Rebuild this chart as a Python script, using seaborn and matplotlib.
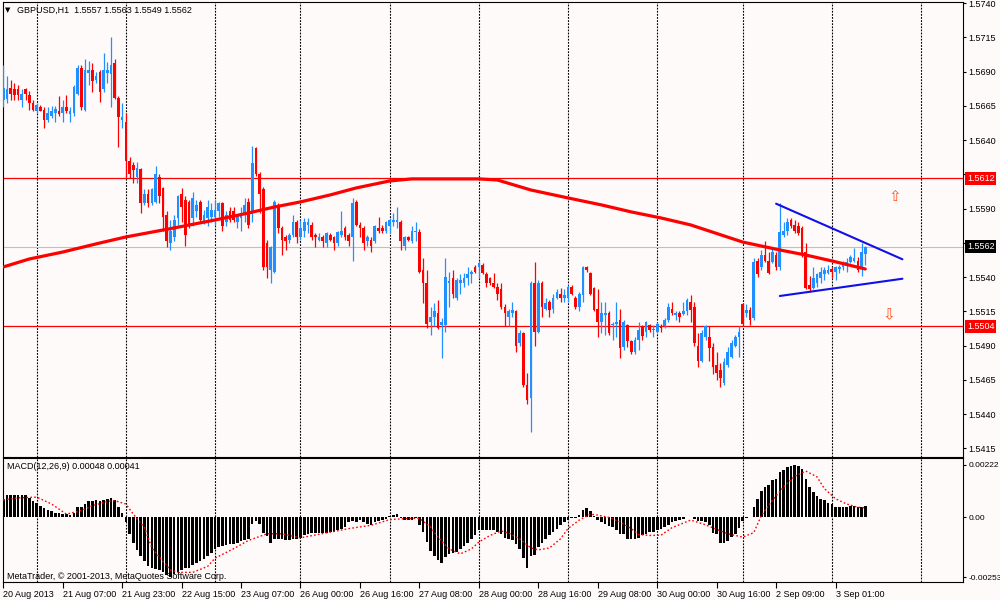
import numpy as np
import pandas as pd
import matplotlib
matplotlib.use("Agg")
import matplotlib.pyplot as plt
import matplotlib.transforms as mtransforms
import seaborn as sns

# ---------------- data ----------------
date_labels = ["20 Aug 2013", "21 Aug 07:00", "21 Aug 23:00", "22 Aug 15:00", "23 Aug 07:00",
               "26 Aug 00:00", "26 Aug 16:00", "27 Aug 08:00", "28 Aug 00:00", "28 Aug 16:00",
               "29 Aug 08:00", "30 Aug 00:00", "30 Aug 16:00", "2 Sep 09:00", "3 Sep 01:00"]
date_label_bars = [0, 16, 32, 48, 64, 80, 96, 112, 128, 144, 160, 176, 192, 208, 224]
day_start_bars = [9, 33, 57, 80, 104, 128, 152, 176, 199, 223, 247]

open_ = [
1.5669,1.5670,1.5678,1.5677,1.5677,1.5669,1.5677,1.5673,1.5667,1.5661,
1.5664,1.5662,1.5655,1.5658,1.5660,1.5661,1.5660,1.5664,1.5659,1.5660,
1.5674,1.5693,1.5662,1.5689,1.5691,1.5684,1.5690,1.5677,1.5689,1.5688,
1.5696,1.5671,1.5655,1.5653,1.5625,1.5622,1.5613,1.5619,1.5594,1.5601,
1.5594,1.5595,1.5613,1.5605,1.5585,1.5565,1.5569,1.5583,1.5601,1.5596,
1.5595,1.5583,1.5588,1.5595,1.5580,1.5583,1.5584,1.5584,1.5588,1.5594,
1.5580,1.5588,1.5588,1.5580,1.5583,1.5585,1.5595,1.5587,1.5634,1.5615,
1.5604,1.5565,1.5545,1.5544,1.5593,1.5576,1.5569,1.5567,1.5571,1.5580,
1.5569,1.5574,1.5578,1.5578,1.5571,1.5567,1.5569,1.5565,1.5571,1.5569,
1.5565,1.5571,1.5576,1.5571,1.5569,1.5595,1.5578,1.5576,1.5566,1.5567,
1.5566,1.5576,1.5576,1.5574,1.5577,1.5580,1.5580,1.5580,1.5563,1.5569,
1.5566,1.5573,1.5573,1.5545,1.5536,1.5507,1.5511,1.5514,1.5505,1.5505,
1.5536,1.5539,1.5525,1.5536,1.5536,1.5539,1.5542,1.5547,1.5547,1.5549,
1.5542,1.5539,1.5536,1.5533,1.5531,1.5518,1.5511,1.5514,1.5515,1.5492,
1.5499,1.5461,1.5452,1.5536,1.5500,1.5536,1.5517,1.5522,1.5517,1.5525,
1.5528,1.5525,1.5525,1.5533,1.5525,1.5518,1.5527,1.5547,1.5543,1.5532,
1.5517,1.5507,1.5512,1.5514,1.5505,1.5506,1.5509,1.5489,1.5505,1.5493,
1.5485,1.5494,1.5504,1.5500,1.5505,1.5501,1.5500,1.5504,1.5504,1.5509,
1.5517,1.5512,1.5514,1.5513,1.5515,1.5522,1.5518,1.5490,1.5479,1.5496,
1.5496,1.5489,1.5476,1.5472,1.5463,1.5476,1.5482,1.5490,1.5496,1.5520,
1.5514,1.5516,1.5510,1.5552,1.5547,1.5556,1.5552,1.5551,1.5556,1.5547,
1.5571,1.5574,1.5582,1.5578,1.5577,1.5576,1.5558,1.5534,1.5532,1.5536,
1.5539,1.5542,1.5543,1.5546,1.5544,1.5546,1.5547,1.5549,1.5551,1.5552,
1.5552,1.5547,1.5557]

high = [
1.5695,1.5687,1.5684,1.5682,1.5680,1.5677,1.5678,1.5676,1.5669,1.5667,
1.5666,1.5664,1.5664,1.5665,1.5665,1.5672,1.5669,1.5673,1.5664,1.5680,
1.5695,1.5695,1.5699,1.5698,1.5696,1.5690,1.5691,1.5704,1.5697,1.5715,
1.5699,1.5672,1.5667,1.5660,1.5628,1.5624,1.5624,1.5620,1.5604,1.5604,
1.5605,1.5621,1.5615,1.5606,1.5588,1.5582,1.5585,1.5600,1.5605,1.5599,
1.5596,1.5602,1.5596,1.5596,1.5589,1.5596,1.5594,1.5596,1.5595,1.5595,
1.5588,1.5591,1.5591,1.5586,1.5591,1.5598,1.5598,1.5636,1.5635,1.5617,
1.5606,1.5567,1.5563,1.5596,1.5594,1.5577,1.5571,1.5572,1.5585,1.5582,
1.5582,1.5583,1.5583,1.5580,1.5572,1.5572,1.5571,1.5573,1.5572,1.5570,
1.5574,1.5588,1.5577,1.5572,1.5598,1.5596,1.5580,1.5577,1.5571,1.5569,
1.5578,1.5584,1.5578,1.5581,1.5583,1.5587,1.5591,1.5582,1.5570,1.5570,
1.5577,1.5580,1.5575,1.5554,1.5545,1.5518,1.5521,1.5523,1.5510,1.5554,
1.5544,1.5545,1.5539,1.5542,1.5543,1.5547,1.5545,1.5549,1.5552,1.5550,
1.5544,1.5540,1.5543,1.5536,1.5536,1.5520,1.5517,1.5522,1.5516,1.5501,
1.5500,1.5470,1.5537,1.5551,1.5538,1.5537,1.5525,1.5523,1.5528,1.5531,
1.5532,1.5531,1.5534,1.5534,1.5526,1.5529,1.5548,1.5548,1.5544,1.5533,
1.5531,1.5522,1.5522,1.5515,1.5507,1.5522,1.5517,1.5509,1.5506,1.5494,
1.5496,1.5507,1.5505,1.5508,1.5506,1.5505,1.5507,1.5506,1.5510,1.5521,
1.5522,1.5515,1.5515,1.5522,1.5525,1.5527,1.5522,1.5499,1.5501,1.5505,
1.5504,1.5492,1.5485,1.5477,1.5481,1.5489,1.5494,1.5498,1.5504,1.5521,
1.5520,1.5518,1.5554,1.5554,1.5560,1.5566,1.5558,1.5562,1.5558,1.5594,
1.5580,1.5583,1.5583,1.5582,1.5580,1.5577,1.5565,1.5541,1.5547,1.5543,
1.5547,1.5547,1.5549,1.5547,1.5548,1.5549,1.5552,1.5554,1.5556,1.5561,
1.5555,1.5565,1.5563]

low = [
1.5664,1.5667,1.5669,1.5669,1.5669,1.5664,1.5669,1.5662,1.5661,1.5660,
1.5661,1.5649,1.5653,1.5656,1.5653,1.5658,1.5653,1.5660,1.5653,1.5658,
1.5673,1.5662,1.5661,1.5680,1.5675,1.5682,1.5668,1.5675,1.5682,1.5664,
1.5670,1.5635,1.5649,1.5613,1.5612,1.5609,1.5609,1.5587,1.5593,1.5591,
1.5593,1.5594,1.5594,1.5574,1.5562,1.5560,1.5566,1.5578,1.5580,1.5563,
1.5576,1.5577,1.5584,1.5580,1.5579,1.5577,1.5580,1.5578,1.5584,1.5574,
1.5577,1.5580,1.5580,1.5576,1.5574,1.5580,1.5576,1.5580,1.5614,1.5587,
1.5545,1.5539,1.5536,1.5543,1.5572,1.5556,1.5560,1.5565,1.5569,1.5565,
1.5567,1.5569,1.5572,1.5567,1.5562,1.5566,1.5562,1.5562,1.5566,1.5560,
1.5563,1.5569,1.5567,1.5563,1.5552,1.5577,1.5569,1.5560,1.5563,1.5558,
1.5565,1.5572,1.5572,1.5572,1.5572,1.5577,1.5576,1.5560,1.5560,1.5566,
1.5565,1.5566,1.5543,1.5521,1.5503,1.5498,1.5504,1.5502,1.5481,1.5500,
1.5518,1.5525,1.5523,1.5528,1.5533,1.5534,1.5536,1.5543,1.5539,1.5542,
1.5533,1.5534,1.5532,1.5523,1.5517,1.5504,1.5504,1.5511,1.5485,1.5490,
1.5460,1.5447,1.5427,1.5490,1.5499,1.5511,1.5516,1.5511,1.5514,1.5524,
1.5522,1.5522,1.5522,1.5527,1.5517,1.5515,1.5522,1.5544,1.5527,1.5515,
1.5496,1.5499,1.5498,1.5498,1.5494,1.5496,1.5481,1.5487,1.5489,1.5484,
1.5484,1.5487,1.5494,1.5496,1.5500,1.5496,1.5499,1.5500,1.5503,1.5507,
1.5512,1.5509,1.5507,1.5512,1.5512,1.5507,1.5490,1.5474,1.5478,1.5494,
1.5479,1.5469,1.5465,1.5460,1.5461,1.5474,1.5481,1.5489,1.5482,1.5504,
1.5511,1.5505,1.5509,1.5540,1.5545,1.5551,1.5542,1.5550,1.5545,1.5545,
1.5569,1.5571,1.5576,1.5572,1.5571,1.5555,1.5531,1.5529,1.5531,1.5533,
1.5536,1.5538,1.5542,1.5539,1.5538,1.5543,1.5545,1.5544,1.5550,1.5551,
1.5544,1.5541,1.5549]

close = [
1.5678,1.5677,1.5674,1.5673,1.5673,1.5674,1.5674,1.5667,1.5662,1.5666,
1.5661,1.5655,1.5660,1.5661,1.5663,1.5659,1.5664,1.5661,1.5661,1.5679,
1.5693,1.5664,1.5691,1.5691,1.5683,1.5687,1.5675,1.5691,1.5691,1.5695,
1.5671,1.5657,1.5657,1.5625,1.5615,1.5618,1.5620,1.5594,1.5601,1.5594,
1.5604,1.5615,1.5599,1.5584,1.5566,1.5574,1.5582,1.5599,1.5591,1.5571,
1.5578,1.5598,1.5593,1.5582,1.5585,1.5591,1.5589,1.5589,1.5594,1.5577,
1.5585,1.5582,1.5582,1.5585,1.5587,1.5593,1.5578,1.5623,1.5615,1.5601,
1.5547,1.5547,1.5562,1.5595,1.5576,1.5567,1.5566,1.5571,1.5580,1.5569,
1.5576,1.5580,1.5580,1.5569,1.5569,1.5569,1.5566,1.5572,1.5567,1.5565,
1.5573,1.5574,1.5569,1.5566,1.5594,1.5578,1.5576,1.5565,1.5569,1.5563,
1.5577,1.5574,1.5574,1.5580,1.5582,1.5582,1.5582,1.5566,1.5569,1.5567,
1.5574,1.5574,1.5544,1.5536,1.5506,1.5511,1.5515,1.5503,1.5507,1.5540,
1.5537,1.5528,1.5538,1.5538,1.5539,1.5542,1.5544,1.5544,1.5550,1.5543,
1.5536,1.5536,1.5533,1.5528,1.5518,1.5514,1.5515,1.5516,1.5490,1.5499,
1.5461,1.5450,1.5536,1.5500,1.5536,1.5518,1.5521,1.5516,1.5525,1.5529,
1.5525,1.5527,1.5533,1.5528,1.5518,1.5528,1.5547,1.5545,1.5528,1.5516,
1.5507,1.5514,1.5514,1.5499,1.5506,1.5507,1.5488,1.5507,1.5493,1.5485,
1.5494,1.5501,1.5497,1.5507,1.5501,1.5502,1.5506,1.5503,1.5509,1.5518,
1.5514,1.5514,1.5511,1.5515,1.5523,1.5516,1.5492,1.5479,1.5499,1.5504,
1.5488,1.5474,1.5470,1.5466,1.5478,1.5485,1.5492,1.5496,1.5500,1.5506,
1.5516,1.5509,1.5551,1.5542,1.5556,1.5552,1.5543,1.5558,1.5547,1.5573,
1.5574,1.5580,1.5577,1.5574,1.5572,1.5556,1.5532,1.5531,1.5539,1.5542,
1.5544,1.5545,1.5545,1.5544,1.5547,1.5547,1.5550,1.5551,1.5555,1.5554,
1.5545,1.5558,1.5562]

# long moving average (read at sample bars)
ma_bar = [0, 7, 16, 26, 33, 46, 57, 66, 73, 80, 88, 95, 104, 110, 128, 133, 142, 152,
          161, 169, 177, 185, 199, 209, 216, 223, 232]
ma_price = [1.55474, 1.55532, 1.55583, 1.55649, 1.55693, 1.55759, 1.55817, 1.55868, 1.55912,
            1.55949, 1.56000, 1.56051, 1.56102, 1.56117, 1.56117, 1.56109, 1.56036, 1.55978,
            1.55927, 1.55876, 1.55832, 1.55781, 1.55656, 1.55598, 1.55561, 1.55518, 1.55459]

macd_hist = [
0.00079,0.00093,0.00096,0.00096,0.00096,0.00093,0.00093,0.00083,0.00071,0.00060,
0.00050,0.00039,0.00031,0.00026,0.00021,0.00017,0.00014,0.00014,0.00011,0.00021,
0.00046,0.00043,0.00057,0.00069,0.00071,0.00074,0.00069,0.00074,0.00079,0.00083,
0.00074,0.00043,0.00021,-0.00021,-0.00069,-0.00107,-0.00136,-0.00164,-0.00186,-0.00207,
-0.00215,-0.00217,-0.00222,-0.00229,-0.00243,-0.00253,-0.00240,-0.00229,-0.00222,-0.00215,
-0.00212,-0.00200,-0.00193,-0.00186,-0.00174,-0.00164,-0.00150,-0.00132,-0.00126,-0.00122,
-0.00117,-0.00114,-0.00112,-0.00107,-0.00100,-0.00097,-0.00089,-0.00029,-0.00014,-0.00029,
-0.00064,-0.00079,-0.00107,-0.00089,-0.00089,-0.00093,-0.00096,-0.00096,-0.00093,-0.00089,
-0.00086,-0.00074,-0.00069,-0.00064,-0.00064,-0.00064,-0.00064,-0.00064,-0.00061,-0.00060,
-0.00054,-0.00047,-0.00040,-0.00019,-0.00014,-0.00019,-0.00011,-0.00019,-0.00026,-0.00030,
-0.00019,-0.00016,-0.00011,-0.00007,0.00006,0.00010,0.00013,-0.00004,-0.00009,-0.00009,
-0.00009,-0.00004,-0.00033,-0.00061,-0.00104,-0.00140,-0.00162,-0.00180,-0.00194,-0.00169,
-0.00154,-0.00152,-0.00147,-0.00133,-0.00119,-0.00109,-0.00090,-0.00072,-0.00054,-0.00051,
-0.00051,-0.00051,-0.00054,-0.00061,-0.00069,-0.00086,-0.00090,-0.00097,-0.00112,-0.00133,
-0.00172,-0.00212,-0.00162,-0.00157,-0.00126,-0.00109,-0.00090,-0.00076,-0.00061,-0.00047,
-0.00033,-0.00019,-0.00009,-0.00004,-0.00001,0.00010,0.00031,0.00041,0.00026,0.00006,
-0.00011,-0.00019,-0.00026,-0.00036,-0.00040,-0.00054,-0.00069,-0.00069,-0.00090,-0.00093,
-0.00090,-0.00086,-0.00076,-0.00069,-0.00061,-0.00061,-0.00054,-0.00050,-0.00042,-0.00031,
-0.00021,-0.00017,-0.00011,-0.00007,0.00001,0.00003,-0.00007,-0.00014,-0.00017,-0.00021,
-0.00031,-0.00064,-0.00071,-0.00107,-0.00107,-0.00100,-0.00083,-0.00069,-0.00043,-0.00014,
-0.00003,0.00003,0.00046,0.00079,0.00112,0.00129,0.00136,0.00157,0.00164,0.00193,
0.00200,0.00215,0.00217,0.00222,0.00217,0.00203,0.00164,0.00129,0.00107,0.00089,
0.00079,0.00072,0.00060,0.00057,0.00046,0.00043,0.00043,0.00046,0.00050,0.00050,
0.00046,0.00046,0.00048]

signal_bar = [0, 4, 9, 13, 17, 21, 24, 28, 30, 33, 35, 38, 40, 43, 45, 47, 51, 55, 57, 62,
              66, 71, 75, 80, 84, 89, 93, 99, 104, 109, 112, 115, 117, 120, 123, 126, 128, 131,
              134, 136, 139, 142, 144, 147, 150, 152, 155, 158, 160, 163, 166, 169, 171, 174,
              177, 180, 185, 189, 195, 199, 202, 204, 207, 210, 213, 216, 219, 221, 224, 227,
              230, 232]
signal_val = [0.00074, 0.00083, 0.00086, 0.00057, 0.00014, 0.00029, 0.00050, 0.00067, 0.00071,
              0.00057, 0.00014, -0.00043, -0.00129, -0.00186, -0.00222, -0.00232, -0.00232,
              -0.00207, -0.00172, -0.00132, -0.00097, -0.00069, -0.00069, -0.00086, -0.00074,
              -0.00059, -0.00047, -0.00033, -0.00009, -0.00004, -0.00004, -0.00040, -0.00083,
              -0.00133, -0.00154, -0.00133, -0.00104, -0.00076, -0.00057, -0.00066, -0.00090,
              -0.00129, -0.00137, -0.00129, -0.00090, -0.00047, -0.00011, 0.00014, 0.00010,
              0.00000, -0.00019, -0.00047, -0.00072, -0.00076, -0.00075, -0.00043, -0.00011,
              -0.00031, -0.00069, -0.00083, -0.00064, 0.00007, 0.00072, 0.00129, 0.00174,
              0.00196, 0.00172, 0.00122, 0.00079, 0.00057, 0.00043, 0.00041]

resistance = 1.5612
support = 1.5504
upper_trend_bar = [208, 242]
upper_trend_price = [1.55936, 1.55530]
lower_trend_bar = [209, 242]
lower_trend_price = [1.55262, 1.55388]
arrow_up = (240, 1.55987)
arrow_down = (238.4, 1.55123)

price_ticks = [1.5415, 1.5440, 1.5465, 1.5490, 1.5515, 1.5540, 1.5565, 1.5590,
               1.5615, 1.5640, 1.5665, 1.5690, 1.5715, 1.5740]
hidden_price_ticks = [1.5565, 1.5615]   # covered by the value boxes in the reference
macd_ticks = [-0.00253, 0.0, 0.00222]
macd_tick_labels = ["-0.00253", "0.00", "0.00222"]

# ---------------- style ----------------
sns.set_theme(style="white")
plt.rcParams["font.family"] = ["Liberation Sans", "DejaVu Sans"]
BG = "#fffafa"
BULL = "#1e90ff"
BEAR = "#ff0000"
FS = 6.5

fig = plt.figure(figsize=(10, 6), dpi=100, facecolor=BG)
ax = fig.add_axes([0.0025, 0.2383, 0.9605, 0.7584], facecolor=BG)
axm = fig.add_axes([0.0025, 0.0295, 0.9605, 0.2067], facecolor=BG)

df = pd.DataFrame({"o": open_, "h": high, "l": low, "c": close})
df["bar"] = np.arange(len(df))
up = df["c"] >= df["o"]
colors = np.where(up, BULL, BEAR)

# day separators
for a in (ax, axm):
    for b in day_start_bars:
        a.axvline(b, color="black", lw=0.8, ls=(0, (1.6, 1.2)), zorder=1)

# levels
ax.axhline(close[-1], color="#c0c0c0", lw=0.8, zorder=1.2)
ax.axhline(resistance, color="red", lw=0.9, zorder=1.3)
ax.axhline(support, color="red", lw=0.9, zorder=1.3)

# candles
ax.vlines(df["bar"], df["l"], df["h"], colors=colors, lw=0.9, zorder=3)
body = (df["c"] - df["o"]).abs().clip(lower=0.00002)
ax.bar(df["bar"], body, bottom=df[["o", "c"]].min(axis=1), width=0.72,
       color=colors, linewidth=0, zorder=4)

# moving average
sns.lineplot(x=ma_bar, y=ma_price, ax=ax, color="red", linewidth=2.3, zorder=5, sort=False)

# triangle trend lines
ax.plot(upper_trend_bar, upper_trend_price, color="#1010e8", lw=1.5, zorder=6)
ax.plot(lower_trend_bar, lower_trend_price, color="#1010e8", lw=1.5, zorder=6)

ax.text(arrow_up[0], arrow_up[1], "\u21e7", family="DejaVu Sans", fontsize=11,
        color="#ff5020", ha="center", va="center", zorder=7)
ax.text(arrow_down[0], arrow_down[1], "\u21e9", family="DejaVu Sans", fontsize=11,
        color="#ff5020", ha="center", va="center", zorder=7)

ax.set_xlim(-0.2, 258.3)
ax.set_ylim(1.54086, 1.57409)
ax.set_xticks([])
ax.set_xlabel("")
ax.set_ylabel("")
ax.yaxis.tick_right()
ax.set_yticks(price_ticks)
ax.set_yticklabels(["" if v in hidden_price_ticks else f"{v:.4f}" for v in price_ticks])
ax.tick_params(axis="y", which="major", right=True, left=False, direction="out",
               length=2.5, width=0.8, pad=1.5, labelsize=FS, colors="black")

# value boxes on the price scale
trans = mtransforms.blended_transform_factory(ax.transAxes, ax.transData)
for val, fc in [(resistance, "red"), (support, "red"), (close[-1], "black")]:
    ax.text(1.004, val, f"{val:.4f}", transform=trans, ha="left", va="center",
            fontsize=FS, color="white", clip_on=False, zorder=20,
            bbox=dict(boxstyle="square,pad=0.22", fc=fc, ec="none"))

# MACD panel
axm.bar(np.arange(len(macd_hist)), macd_hist, width=0.7, color="black", linewidth=0, zorder=3)
axm.plot(signal_bar, signal_val, color="red", lw=1.0, ls=(0, (1.2, 1.6)), zorder=4)
axm.set_xlim(-0.2, 258.3)
axm.set_ylim(-0.002741, 0.002503)
axm.yaxis.tick_right()
axm.set_yticks(macd_ticks)
axm.set_yticklabels(macd_tick_labels)
axm.tick_params(axis="y", right=True, left=False, direction="out", length=2.5, width=0.8,
                pad=1.2, labelsize=6.0, colors="black")
axm.set_xticks(date_label_bars)
axm.set_xticklabels(date_labels, ha="left")
axm.tick_params(axis="x", bottom=True, direction="out", length=4, width=0.8, pad=1.5,
                labelsize=FS, colors="black")

for a in (ax, axm):
    for s in a.spines.values():
        s.set_color("black")
        s.set_linewidth(0.8)
        s.set_visible(True)

# texts
fig.text(0.0045, 0.9835, "\u25bc", fontsize=5, family="DejaVu Sans", va="center", color="black")
fig.text(0.017, 0.9835,
         f"GBPUSD,H1  {open_[-1]:.4f} {high[-1]:.4f} {low[-1]:.4f} {close[-1]:.4f}",
         fontsize=FS, va="center", color="black")
fig.text(0.007, 0.2222, f"MACD(12,26,9) {macd_hist[-1]:.5f} {signal_val[-1]:.5f}",
         fontsize=FS, va="center", color="black")
fig.text(0.007, 0.0385, "MetaTrader, \u00a9 2001-2013, MetaQuotes Software Corp.",
         fontsize=FS, va="center", color="black")

fig.savefig("out.png", dpi=100, facecolor=BG)
